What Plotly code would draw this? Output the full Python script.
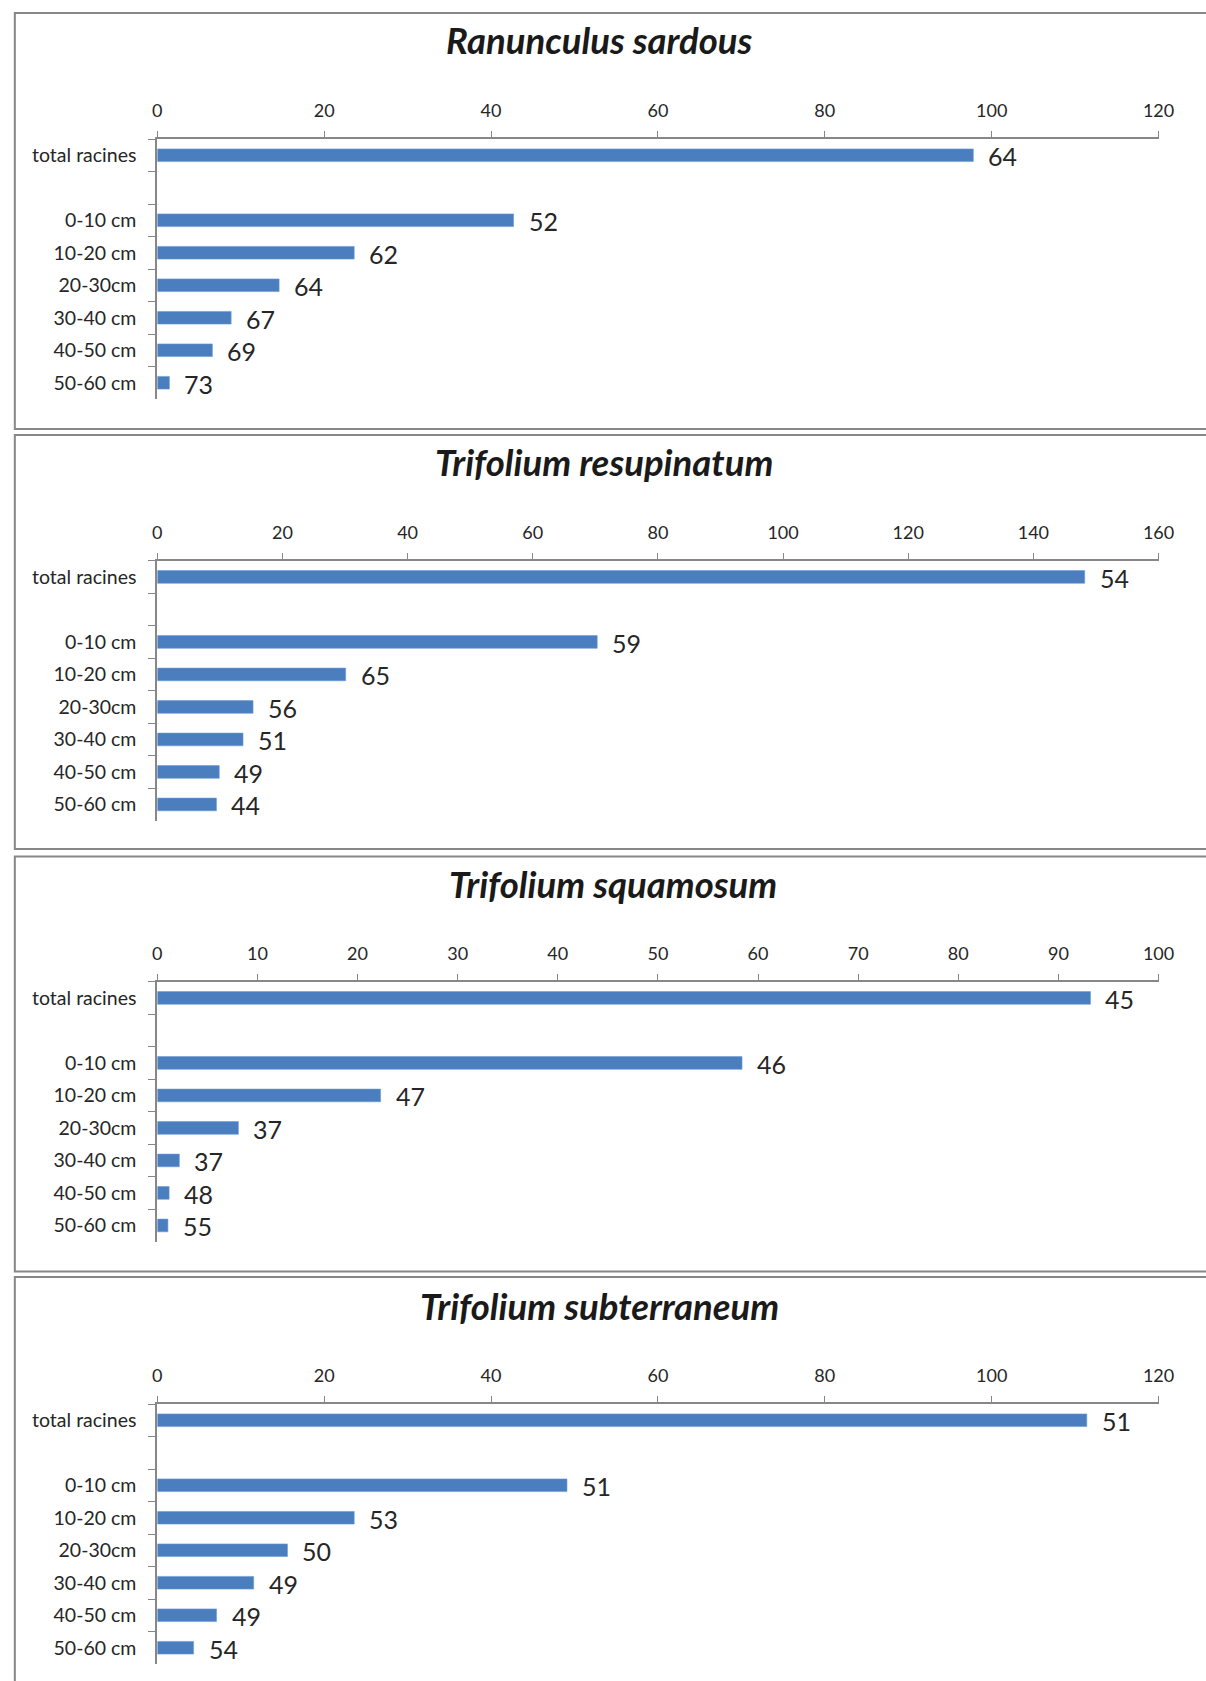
import plotly.graph_objects as go

# Root depth classes (the blank entry is the spacer row under the total)
categories = ["total racines", " ", "0-10 cm", "10-20 cm", "20-30cm", "30-40 cm", "40-50 cm", "50-60 cm"]

species = ["Ranunculus sardous", "Trifolium resupinatum", "Trifolium squamosum", "Trifolium subterraneum"]

# Bar lengths per depth class
ranunculus_values = [97.8, None, 42.7, 23.6, 14.6, 8.85, 6.6, 1.45]
resupinatum_values = [148.2, None, 70.3, 30.1, 15.3, 13.7, 9.9, 9.45]
squamosum_values = [93.2, None, 58.4, 22.3, 8.1, 2.2, 1.18, 1.06]
subterraneum_values = [111.4, None, 49.1, 23.6, 15.6, 11.55, 7.1, 4.35]

# Numbers printed next to each bar
ranunculus_labels = ["64", "", "52", "62", "64", "67", "69", "73"]
resupinatum_labels = ["54", "", "59", "65", "56", "51", "49", "44"]
squamosum_labels = ["45", "", "46", "47", "37", "37", "48", "55"]
subterraneum_labels = ["51", "", "51", "53", "50", "49", "49", "54"]

# Axis scales
axis_max = [120, 160, 100, 120]
axis_step = [20, 20, 10, 20]

values = [ranunculus_values, resupinatum_values, squamosum_values, subterraneum_values]
labels = [ranunculus_labels, resupinatum_labels, squamosum_labels, subterraneum_labels]

W, H = 1206, 1681
FONT = "Lato"
GRAY = "#878787"
BAR = "#4A7EBE"
TEXT = "#262626"

# Panel layout in pixels: (frame top, frame bottom, plot top, plot bottom, title centre y, title centre x)
panels = [
    (13, 429, 139, 399, 40, 605),
    (435, 849, 560.7, 820.7, 462, 610),
    (856.5, 1271.5, 981.7, 1241.7, 884, 619),
    (1277, 1700, 1404, 1664, 1306, 605),
]
PLOT_LEFT, PLOT_RIGHT = 155, 1174


def py(p):
    return 1 - p / H


fig = go.Figure()
shapes = []
annotations = []
layout_axes = {}

for i, (name, vals, labs, xmax, step, pan) in enumerate(
        zip(species, values, labels, axis_max, axis_step, panels), start=1):
    ftop, fbot, ptop, pbot, ty, tx = pan
    xa = "x" if i == 1 else f"x{i}"
    ya = "y" if i == 1 else f"y{i}"

    fig.add_trace(go.Bar(
        x=vals, y=categories, orientation="h",
        marker=dict(color=BAR, line=dict(color="#6A9AD6", width=0.6)),
        xaxis=xa, yaxis=ya, showlegend=False, hoverinfo="skip",
    ))

    layout_axes["xaxis" if i == 1 else f"xaxis{i}"] = dict(
        domain=[PLOT_LEFT / W, PLOT_RIGHT / W], anchor=ya, side="top",
        range=[0, xmax], dtick=step, tick0=0, fixedrange=True,
        ticks="outside", ticklen=6, tickwidth=1.3, tickcolor=GRAY,
        showline=True, linecolor=GRAY, linewidth=2,
        showgrid=False, zeroline=False,
        tickfont=dict(family=FONT, size=18, color=TEXT),
        ticklabelstandoff=7,
    )
    layout_axes["yaxis" if i == 1 else f"yaxis{i}"] = dict(
        domain=[py(pbot), py(ptop)], anchor=xa,
        type="category", categoryorder="array", categoryarray=categories,
        range=[len(categories) - 0.5, -0.5], fixedrange=True,
        tickson="boundaries", ticks="outside", ticklen=7, tickwidth=1.3,
        tickcolor=GRAY, showline=True, linecolor=GRAY, linewidth=2,
        showgrid=False, zeroline=False,
        tickfont=dict(family=FONT, size=19.5, color=TEXT),
        ticklabelstandoff=15,
    )

    # value labels to the right of each bar
    for cat, v, lab in zip(categories, vals, labs):
        if v is None or not lab:
            continue
        annotations.append(dict(
            xref=xa, yref=ya, x=v, y=cat, text=lab, showarrow=False,
            xanchor="left", yanchor="middle", xshift=13, yshift=-1,
            font=dict(family=FONT, size=25, color=TEXT),
        ))

    # chart title
    annotations.append(dict(
        xref="paper", yref="paper", x=tx / W, y=py(ty),
        text=f"<b><i>{name}</i></b>", showarrow=False,
        xanchor="center", yanchor="middle",
        font=dict(family=FONT, size=36.5, color="#1a1a1a"),
    ))

    # chart frame
    shapes.append(dict(
        type="rect", xref="paper", yref="paper",
        x0=10 / W, x1=1.02, y0=py(fbot), y1=py(ftop),
        line=dict(color=GRAY, width=2), fillcolor="rgba(0,0,0,0)",
    ))

fig.update_layout(
    width=W, height=H,
    margin=dict(l=0, r=0, t=0, b=0),
    paper_bgcolor="white", plot_bgcolor="white",
    bargap=0.61,
    shapes=shapes, annotations=annotations,
    **layout_axes,
)

fig.write_html("out.html")
